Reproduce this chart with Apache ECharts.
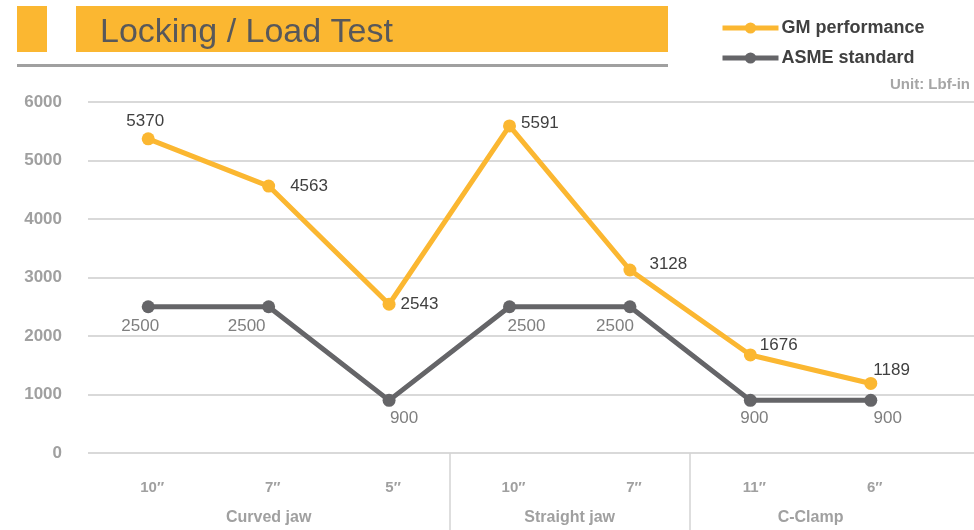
<!DOCTYPE html>
<html>
<head>
<meta charset="utf-8">
<script src="https://cdn.jsdelivr.net/npm/echarts@6/dist/echarts.min.js"></script>
<style>
  html, body { margin: 0; padding: 0; background: #fff; }
  #main { width: 974px; height: 530px; }
</style>
</head>
<body>
<div id="main"></div>
<script>
// data
const sizes = ['10″', '7″', '5″', '10″', '7″', '11″', '6″']
const groupNames = ['Curved jaw', 'Straight jaw', 'C-Clamp']
const groupSizes = [3, 2, 2]
const gmPerformance = [5370, 4563, 2543, 5591, 3128, 1676, 1189]
const asmeStandard = [2500, 2500, 900, 2500, 2500, 900, 900]
const yTicks = [0, 1000, 2000, 3000, 4000, 5000, 6000]

// label placement per point (position, offset in px)
const gmLabelPos = [['top', [-3, 2]], ['right', [10, 0]], ['right', [0, 0]], ['right', [0, -3]], ['right', [8, -6]], ['right', [-2, -10]], ['right', [-9, -13]]]
const asmeLabelPos = [['bottom', [-8, 0]], ['bottom', [-22, 0]], ['bottom', [15, -2]], ['bottom', [17, 0]], ['bottom', [-15, 0]], ['bottom', [4, -2]], ['bottom', [17, -2]]]

const ORANGE = '#fbb731'
const GREY = '#656568'

// group boundaries and centres on the category scale
let groupStarts = [], groupCentres = [], groupLabel = {}
let acc = 0
groupSizes.forEach((n, i) => {
    if (acc > 0) groupStarts.push(acc)
    groupCentres.push(acc + n / 2)
    groupLabel[acc + n / 2] = groupNames[i]
    acc += n
})

const withLabels = (values, pos) => values.map((v, i) => ({
    value: v,
    label: { position: pos[i][0], offset: pos[i][1] }
}))

const chart = echarts.init(document.getElementById('main'))

const option = {
    animation: false,
    backgroundColor: '#fff',
    textStyle: { fontFamily: 'Liberation Sans, Arial, sans-serif' },
    title: {
        text: 'Locking / Load Test',
        left: 95,
        top: 11,
        textStyle: {
            fontFamily: 'Liberation Sans, Arial, sans-serif',
            fontSize: 34,
            fontWeight: 'normal',
            color: '#58585a'
        }
    },
    graphic: [
        { type: 'rect', z: -1, shape: { x: 17, y: 6, width: 30, height: 46 }, style: { fill: ORANGE } },
        { type: 'rect', z: -1, shape: { x: 76, y: 6, width: 592, height: 46 }, style: { fill: ORANGE } },
        { type: 'rect', shape: { x: 17, y: 64, width: 651, height: 3 }, style: { fill: '#a0a0a0' } },
        {
            type: 'text', right: 4, top: 77,
            style: { text: 'Unit: Lbf-in', fill: '#a6a6a6', font: 'bold 15px Liberation Sans, sans-serif' }
        }
    ],
    legend: {
        orient: 'vertical',
        left: 715,
        top: 14,
        itemWidth: 56,
        itemHeight: 14,
        itemGap: 12,
        lineStyle: { width: 5 },
        textStyle: { fontSize: 18, fontWeight: 'bold', color: '#404040', padding: [0, 0, 0, -2] },
        data: ['GM performance', 'ASME standard']
    },
    grid: [
        { left: 88, right: 43, top: 102, bottom: 77 },
        { left: 88, right: 0, top: 102, bottom: 77 }
    ],
    xAxis: [
        {
            type: 'category',
            gridIndex: 0,
            data: sizes,
            axisLine: { show: false },
            axisTick: { show: false },
            axisLabel: { margin: 27, fontSize: 15, fontWeight: 'bold', color: '#a0a0a0', padding: [0, 0, 0, 8] }
        },
        {
            type: 'value',
            gridIndex: 0,
            position: 'bottom',
            min: 0,
            max: acc,
            axisLine: { show: false },
            splitLine: { show: false },
            axisTick: {
                show: true,
                customValues: groupStarts,
                length: 77,
                lineStyle: { color: '#d4d4d4', width: 1.5 }
            },
            axisLabel: {
                customValues: groupCentres,
                margin: 57,
                fontSize: 16,
                fontWeight: 'bold',
                color: '#a0a0a0',
                formatter: v => groupLabel[v] || ''
            }
        },
        { type: 'value', gridIndex: 1, show: false, min: 0, max: 1 }
    ],
    yAxis: [
        {
            type: 'value',
            gridIndex: 0,
            min: yTicks[0],
            max: yTicks[yTicks.length - 1],
            interval: yTicks[1] - yTicks[0],
            axisLine: { show: false },
            axisTick: { show: false },
            splitLine: { show: false },
            axisLabel: { margin: 26, fontSize: 17, fontWeight: 'bold', color: '#a0a0a0', formatter: v => String(v) }
        },
        {
            type: 'value',
            gridIndex: 1,
            min: yTicks[0],
            max: yTicks[yTicks.length - 1],
            interval: yTicks[1] - yTicks[0],
            axisLine: { show: false },
            axisTick: { show: false },
            axisLabel: { show: false },
            splitLine: { lineStyle: { color: '#d9d9d9', width: 2 } }
        }
    ],
    series: [
        {
            name: 'ASME standard',
            type: 'line',
            xAxisIndex: 0,
            yAxisIndex: 0,
            data: withLabels(asmeStandard, asmeLabelPos),
            symbol: 'circle',
            symbolSize: 13,
            itemStyle: { color: GREY },
            lineStyle: { color: GREY, width: 5 },
            label: { show: true, fontSize: 17, color: '#7f7f7f', distance: 5 }
        },
        {
            name: 'GM performance',
            type: 'line',
            xAxisIndex: 0,
            yAxisIndex: 0,
            data: withLabels(gmPerformance, gmLabelPos),
            symbol: 'circle',
            symbolSize: 13,
            itemStyle: { color: ORANGE },
            lineStyle: { color: ORANGE, width: 5 },
            label: { show: true, fontSize: 17, color: '#404040', distance: 5 }
        }
    ]
}

chart.setOption(option)
</script>
</body>
</html>
